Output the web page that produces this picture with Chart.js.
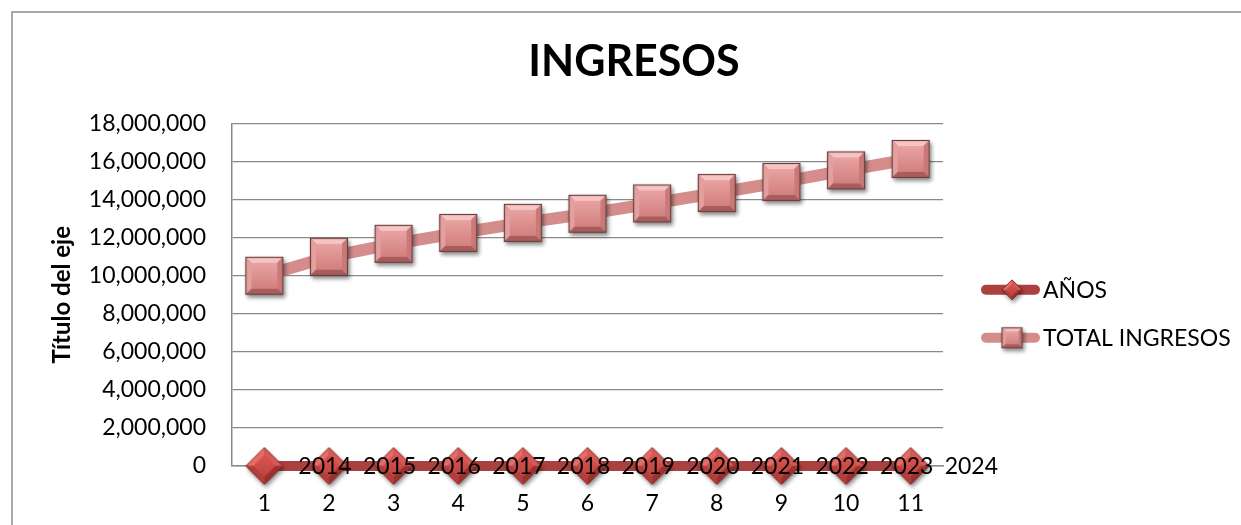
<!DOCTYPE html>
<html>
<head>
<meta charset="utf-8">
<title>INGRESOS</title>
<script src="https://cdn.jsdelivr.net/npm/chart.js@4.4.1/dist/chart.umd.min.js"></script>
<style>
  html, body { margin: 0; padding: 0; background: #ffffff; }
  #wrap { width: 1241px; height: 525px; position: relative; }
</style>
</head>
<body>
<div id="wrap"><canvas id="chart" width="1241" height="525"></canvas></div>
<script>
// ---- data ----
const categories = ['1', '2', '3', '4', '5', '6', '7', '8', '9', '10', '11'];
const anios = [2014, 2015, 2016, 2017, 2018, 2019, 2020, 2021, 2022, 2023, 2024];
const totalIngresos = [10000000, 11000000, 11680000, 12250000, 12780000, 13260000,
                       13800000, 14350000, 14930000, 15540000, 16140000];
const seriesNames = ['AÑOS', 'TOTAL INGRESOS'];
const yMin = 0;
const yMax = 18000000;
const yStep = 2000000;
const chartTitle = 'INGRESOS';
const yAxisTitle = 'Título del eje';

// ---- beveled marker images ----
function polygon(g, pts, fill) {
  g.beginPath();
  g.moveTo(pts[0][0], pts[0][1]);
  for (let i = 1; i < pts.length; i++) g.lineTo(pts[i][0], pts[i][1]);
  g.closePath();
  g.fillStyle = fill;
  g.fill();
}

function makeSquare(s, shadow) {
  const pad = 7;
  const c = document.createElement('canvas');
  c.width = c.height = s + 2 * pad;
  const g = c.getContext('2d');
  const x0 = pad, y0 = pad, x1 = pad + s, y1 = pad + s;
  const b = Math.max(2, Math.round(s * 0.17));
  if (shadow) {
    g.save();
    g.shadowColor = 'rgba(0,0,0,0.45)';
    g.shadowBlur = 4;
    g.shadowOffsetX = 1.5;
    g.shadowOffsetY = 3;
    g.fillStyle = '#b86d6c';
    g.fillRect(x0, y0, s, s);
    g.restore();
  }
  const ix0 = x0 + b, iy0 = y0 + b, ix1 = x1 - b, iy1 = y1 - b;
  polygon(g, [[x0, y0], [x1, y0], [ix1, iy0], [ix0, iy0]], '#f5c4c3');
  polygon(g, [[x0, y0], [ix0, iy0], [ix0, iy1], [x0, y1]], '#e3a09f');
  polygon(g, [[x1, y0], [x1, y1], [ix1, iy1], [ix1, iy0]], '#c97978');
  polygon(g, [[x0, y1], [ix0, iy1], [ix1, iy1], [x1, y1]], '#a85d5c');
  const grad = g.createLinearGradient(0, iy0, 0, iy1);
  grad.addColorStop(0, '#e8a3a2');
  grad.addColorStop(1, '#d3807f');
  g.fillStyle = grad;
  g.fillRect(ix0, iy0, ix1 - ix0, iy1 - iy0);
  g.strokeStyle = '#6e4140';
  g.lineWidth = 1.2;
  g.strokeRect(x0 + 0.5, y0 + 0.5, s - 1, s - 1);
  return c;
}

function makeDiamond(w, shadow) {
  const pad = 7;
  const c = document.createElement('canvas');
  c.width = c.height = w + 2 * pad;
  const g = c.getContext('2d');
  const cx = c.width / 2, cy = c.height / 2, r = w / 2;
  const ri = r * 0.58;
  const T = [cx, cy - r], R = [cx + r, cy], B = [cx, cy + r], L = [cx - r, cy];
  const t = [cx, cy - ri], rr = [cx + ri, cy], bb = [cx, cy + ri], l = [cx - ri, cy];
  if (shadow) {
    g.save();
    g.shadowColor = 'rgba(0,0,0,0.45)';
    g.shadowBlur = 4;
    g.shadowOffsetX = 1.5;
    g.shadowOffsetY = 3;
    polygon(g, [T, R, B, L], '#b8423f');
    g.restore();
  }
  polygon(g, [L, T, t, l], '#e56c68');
  polygon(g, [T, R, rr, t], '#d75955');
  polygon(g, [R, B, bb, rr], '#9c302d');
  polygon(g, [B, L, l, bb], '#b23d3a');
  const grad = g.createLinearGradient(0, cy - ri, 0, cy + ri);
  grad.addColorStop(0, '#d9544f');
  grad.addColorStop(1, '#bf4440');
  polygon(g, [t, rr, bb, l], grad);
  g.beginPath();
  g.moveTo(T[0], T[1]); g.lineTo(R[0], R[1]); g.lineTo(B[0], B[1]); g.lineTo(L[0], L[1]);
  g.closePath();
  g.strokeStyle = 'rgba(110,30,28,0.8)';
  g.lineWidth = 1;
  g.stroke();
  return c;
}

const diamondMarker = makeDiamond(37, true);
const squareMarker = makeSquare(38, true);
const diamondLegend = makeDiamond(20, true);
const squareLegend = makeSquare(21, true);

const lineColors = ['#aa413e', '#d48d8b'];

// ---- plugins ----
const framePlugin = {
  id: 'frame',
  beforeDraw(chart) {
    const ctx = chart.ctx;
    ctx.save();
    ctx.fillStyle = '#ffffff';
    ctx.fillRect(0, 0, chart.width, chart.height);
    ctx.strokeStyle = '#8c8c8c';
    ctx.lineWidth = 1.5;
    ctx.beginPath();
    ctx.moveTo(12, chart.height);
    ctx.lineTo(12, 12);
    ctx.lineTo(chart.width, 12);
    ctx.stroke();
    ctx.restore();
  }
};

// year values written to the right of each marker of the first series
const valueLabelsPlugin = {
  id: 'valueLabels',
  afterDatasetsDraw(chart) {
    const ctx = chart.ctx;
    const meta = chart.getDatasetMeta(0);
    const values = chart.data.datasets[0].data;
    ctx.save();
    ctx.font = '23px Lato';
    ctx.fillStyle = '#000000';
    ctx.textAlign = 'left';
    ctx.textBaseline = 'middle';
    meta.data.forEach((pt, i) => {
      ctx.fillText(String(values[i]), pt.x + 34, pt.y + 1);
    });
    ctx.restore();
  }
};

// legend at the right: line sample with marker, then the series name
const sideLegendPlugin = {
  id: 'sideLegend',
  afterDraw(chart) {
    const ctx = chart.ctx;
    const area = chart.chartArea;
    const x0 = area.right + 38, x1 = area.right + 97, mx = area.right + 69;
    const yc = (area.top + area.bottom) / 2 + 19;
    const rows = [yc - 24, yc + 24];
    const markers = [diamondLegend, squareLegend];
    ctx.save();
    chart.data.datasets.forEach((ds, i) => {
      const y = rows[i];
      ctx.strokeStyle = ds.borderColor;
      ctx.lineWidth = 10;
      ctx.lineCap = 'round';
      ctx.beginPath();
      ctx.moveTo(x0 + 5, y);
      ctx.lineTo(x1 - 5, y);
      ctx.stroke();
      const m = markers[i];
      ctx.drawImage(m, mx - m.width / 2, y - m.height / 2);
      ctx.font = '23px Lato';
      ctx.fillStyle = '#000000';
      ctx.textAlign = 'left';
      ctx.textBaseline = 'middle';
      ctx.fillText(ds.label, area.right + 100, y + 1);
    });
    ctx.restore();
  }
};

Chart.defaults.font.family = 'Lato';
Chart.defaults.color = '#000000';

new Chart(document.getElementById('chart'), {
  type: 'line',
  data: {
    labels: categories,
    datasets: [
      {
        label: seriesNames[0],
        data: anios,
        borderColor: lineColors[0],
        backgroundColor: lineColors[0],
        borderWidth: 10,
        borderCapStyle: 'round',
        borderJoinStyle: 'round',
        tension: 0,
        pointStyle: diamondMarker,
        pointRadius: 19,
        fill: false,
        clip: false
      },
      {
        label: seriesNames[1],
        data: totalIngresos,
        borderColor: lineColors[1],
        backgroundColor: lineColors[1],
        borderWidth: 12,
        borderCapStyle: 'round',
        borderJoinStyle: 'round',
        tension: 0,
        pointStyle: squareMarker,
        pointRadius: 19,
        fill: false,
        clip: false
      }
    ]
  },
  options: {
    responsive: false,
    animation: false,
    devicePixelRatio: 1,
    layout: { padding: { left: 27, right: 0, top: 0, bottom: 0 } },
    plugins: {
      legend: { display: false },
      tooltip: { enabled: false },
      title: {
        display: true,
        text: chartTitle,
        color: '#000000',
        font: { family: 'Lato', size: 43, weight: 'bold' },
        padding: { top: 36, bottom: 36 }
      }
    },
    scales: {
      x: {
        type: 'category',
        offset: true,
        grid: { display: false },
        border: { display: true, color: '#8a8a8a', width: 1.5 },
        ticks: { padding: 16, font: { size: 23 }, color: '#000000', maxRotation: 0, autoSkip: false },
        afterFit(scale) { scale.height = 59; }
      },
      y: {
        min: yMin,
        max: yMax,
        ticks: {
          stepSize: yStep,
          padding: 26,
          font: { size: 23 },
          color: '#000000',
          callback: (v) => Number(v).toLocaleString('en-US')
        },
        grid: { color: '#8a8a8a', lineWidth: 1.3, drawTicks: false },
        border: { display: true, color: '#8a8a8a', width: 1.5 },
        title: {
          display: true,
          text: yAxisTitle,
          color: '#000000',
          font: { size: 24, weight: 'bold' },
          padding: { top: 21, bottom: 0 }
        },
        afterFit(scale) { scale.width = 205; }
      },
      side: {
        type: 'linear',
        position: 'right',
        display: true,
        grid: { display: false },
        border: { display: false },
        ticks: { display: false },
        afterFit(scale) { scale.width = 298; }
      }
    }
  },
  plugins: [framePlugin, valueLabelsPlugin, sideLegendPlugin]
});
</script>
</body>
</html>
